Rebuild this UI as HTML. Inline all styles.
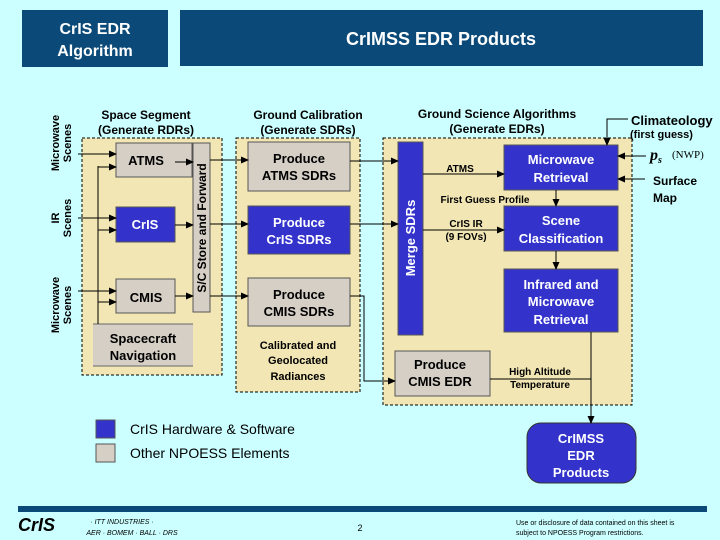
<!DOCTYPE html>
<html><head><meta charset="utf-8"><style>
body{margin:0;background:#ccffff;}
svg{display:block;font-family:"Liberation Sans",Arial,sans-serif;}
</style></head><body>
<svg width="720" height="540" viewBox="0 0 720 540" xmlns="http://www.w3.org/2000/svg">
<defs><marker id="a" markerWidth="8" markerHeight="8" refX="7" refY="4" orient="auto" markerUnits="userSpaceOnUse"><path d="M0,0.5 L8,4 L0,7.5 z" fill="#000"/></marker></defs>
<rect width="720" height="540" fill="#ccffff"/>
<rect x="22" y="10" width="146" height="57" fill="#0b4a78"/>
<text x="95" y="34" fill="#fff" font-size="16" font-weight="bold" text-anchor="middle">CrIS EDR</text>
<text x="95" y="56" fill="#fff" font-size="16" font-weight="bold" text-anchor="middle">Algorithm</text>
<rect x="180" y="10" width="523" height="56" fill="#0b4a78"/>
<text x="441" y="45" fill="#fff" font-size="18" font-weight="bold" text-anchor="middle">CrIMSS EDR Products</text>

<g fill="#f2e6b4" stroke="#000" stroke-dasharray="3,2" stroke-width="1">
<rect x="82" y="138" width="140" height="237"/>
<rect x="236" y="138" width="124" height="254"/>
<rect x="383" y="138" width="249" height="267"/>
</g>
<g font-size="12" font-weight="bold" text-anchor="middle" fill="#000">
<text x="146" y="119">Space Segment</text><text x="146" y="134">(Generate RDRs)</text>
<text x="308" y="119">Ground Calibration</text><text x="308" y="134">(Generate SDRs)</text>
<text x="497" y="118">Ground Science Algorithms</text><text x="497" y="133">(Generate EDRs)</text>
</g>
<g font-size="11" font-weight="bold" text-anchor="middle">
<text transform="translate(59,143) rotate(-90)">Microwave</text><text transform="translate(71,143) rotate(-90)">Scenes</text>
<text transform="translate(59,218) rotate(-90)">IR</text><text transform="translate(71,218) rotate(-90)">Scenes</text>
<text transform="translate(59,305) rotate(-90)">Microwave</text><text transform="translate(71,305) rotate(-90)">Scenes</text>
</g>

<g stroke="#555" stroke-width="1">
<rect x="116" y="143" width="76" height="34" fill="#d6cfc6"/>
<rect x="116" y="207" width="59" height="35" fill="#3333cc"/>
<rect x="116" y="279" width="59" height="34" fill="#d6cfc6"/>
<rect x="193" y="143" width="17" height="169" fill="#d6cfc6"/>
<rect x="248" y="142" width="102" height="49" fill="#d6cfc6"/>
<rect x="248" y="206" width="102" height="48" fill="#3333cc"/>
<rect x="248" y="278" width="102" height="48" fill="#d6cfc6"/>
<rect x="398" y="142" width="25" height="193" fill="#3333cc"/>
<rect x="504" y="145" width="114" height="45" fill="#3333cc"/>
<rect x="504" y="206" width="114" height="45" fill="#3333cc"/>
<rect x="504" y="269" width="114" height="63" fill="#3333cc"/>
<rect x="395" y="351" width="95" height="45" fill="#d6cfc6"/>
<rect x="96" y="420" width="19" height="18" fill="#3333cc"/>
<rect x="96" y="444" width="19" height="18" fill="#d6cfc6"/>
</g>
<rect x="93" y="324" width="100" height="42" fill="#d6cfc6"/>
<line x1="93" y1="324" x2="193" y2="324" stroke="#666"/>
<line x1="93" y1="366" x2="193" y2="366" stroke="#666"/>
<rect x="527" y="423" width="109" height="60" rx="14" fill="#3333cc" stroke="#333"/>

<g font-size="13" font-weight="bold" text-anchor="middle" fill="#000">
<text x="146" y="165">ATMS</text>
<text x="146" y="302">CMIS</text>
<text x="143" y="343">Spacecraft</text><text x="143" y="360">Navigation</text>
<text x="299" y="163">Produce</text><text x="299" y="180">ATMS SDRs</text>
<text x="299" y="299">Produce</text><text x="299" y="316">CMIS SDRs</text>
<text x="440" y="369">Produce</text><text x="440" y="386">CMIS EDR</text>
</g>
<text transform="translate(206,228) rotate(-90)" font-size="12" font-weight="bold" text-anchor="middle">S/C Store and Forward</text>
<g font-size="11" font-weight="bold" text-anchor="middle">
<text x="298" y="349">Calibrated and</text><text x="298" y="364">Geolocated</text><text x="298" y="380">Radiances</text>
</g>
<g font-size="13" font-weight="bold" text-anchor="middle" fill="#fff">
<text x="145" y="229">CrIS</text>
<text x="299" y="227">Produce</text><text x="299" y="244">CrIS SDRs</text>
<text transform="translate(415,238) rotate(-90)">Merge SDRs</text>
<text x="561" y="164">Microwave</text><text x="561" y="182">Retrieval</text>
<text x="561" y="225">Scene</text><text x="561" y="243">Classification</text>
<text x="561" y="289">Infrared and</text><text x="561" y="306">Microwave</text><text x="561" y="324">Retrieval</text>
<text x="581" y="443">CrIMSS</text><text x="581" y="460">EDR</text><text x="581" y="477">Products</text>
</g>
<g font-size="10" font-weight="bold" fill="#000">
<text x="460" y="172" text-anchor="middle">ATMS</text>
<text x="485" y="203" text-anchor="middle">First Guess Profile</text>
<text x="466" y="227" text-anchor="middle">CrIS IR</text><text x="466" y="240" text-anchor="middle">(9 FOVs)</text>
<text x="540" y="375" text-anchor="middle">High Altitude</text><text x="540" y="388" text-anchor="middle">Temperature</text>
<text x="630" y="138" font-size="11">(first guess)</text>
</g>
<text x="631" y="125" font-size="13" font-weight="bold">Climateology</text>
<text x="650" y="160" font-size="16" font-weight="bold" font-style="italic" font-family="Liberation Serif,serif">p<tspan font-size="10" dy="3">s</tspan></text>
<text x="672" y="158" font-size="11" font-family="Liberation Serif,serif">(NWP)</text>
<text x="653" y="185" font-size="12" font-weight="bold">Surface</text>
<text x="653" y="202" font-size="12" font-weight="bold">Map</text>

<g stroke="#000" stroke-width="1" fill="none" marker-end="url(#a)">
<line x1="78" y1="154" x2="116" y2="154"/>
<line x1="78" y1="218" x2="116" y2="218"/>
<line x1="78" y1="291" x2="116" y2="291"/>
<line x1="98" y1="167" x2="116" y2="167"/>
<line x1="98" y1="230" x2="116" y2="230"/>
<line x1="98" y1="302" x2="116" y2="302"/>
<line x1="175" y1="162" x2="193" y2="162"/>
<line x1="175" y1="225" x2="193" y2="225"/>
<line x1="175" y1="296" x2="193" y2="296"/>
<line x1="210" y1="160" x2="248" y2="160"/>
<line x1="210" y1="224" x2="248" y2="224"/>
<line x1="210" y1="296" x2="248" y2="296"/>
<line x1="350" y1="161" x2="398" y2="161"/>
<line x1="350" y1="224" x2="398" y2="224"/>
<polyline points="350,296 364,296 364,381 395,381"/>
<line x1="423" y1="174" x2="504" y2="174"/>
<line x1="423" y1="230" x2="504" y2="230"/>
<line x1="556" y1="190" x2="556" y2="206"/>
<line x1="556" y1="251" x2="556" y2="269"/>
<polyline points="591,332 591,423"/>
<polyline points="628,119 607,119 607,145"/>
<line x1="646" y1="156" x2="618" y2="156"/>
<line x1="645" y1="179" x2="618" y2="179"/>
</g>
<line x1="98" y1="166" x2="98" y2="324" stroke="#000"/>
<line x1="490" y1="379" x2="591" y2="379" stroke="#000"/>

<g font-size="14" fill="#000">
<text x="130" y="434">CrIS Hardware &amp; Software</text>
<text x="130" y="458">Other NPOESS Elements</text>
</g>
<rect x="18" y="506" width="689" height="6" fill="#0b4a78"/>
<text x="18" y="531" font-size="18" font-weight="bold" font-style="italic">CrIS</text>
<g font-size="7" font-style="italic">
<text x="122" y="524" text-anchor="middle">· ITT INDUSTRIES ·</text>
<text x="132" y="535" text-anchor="middle">AER · BOMEM · BALL · DRS</text>
</g>
<text x="360" y="531" font-size="9" text-anchor="middle">2</text>
<text x="516" y="525" font-size="7">Use or disclosure of data contained on this sheet is</text>
<text x="516" y="535" font-size="7">subject to NPOESS Program restrictions.</text>
</svg>
</body></html>
